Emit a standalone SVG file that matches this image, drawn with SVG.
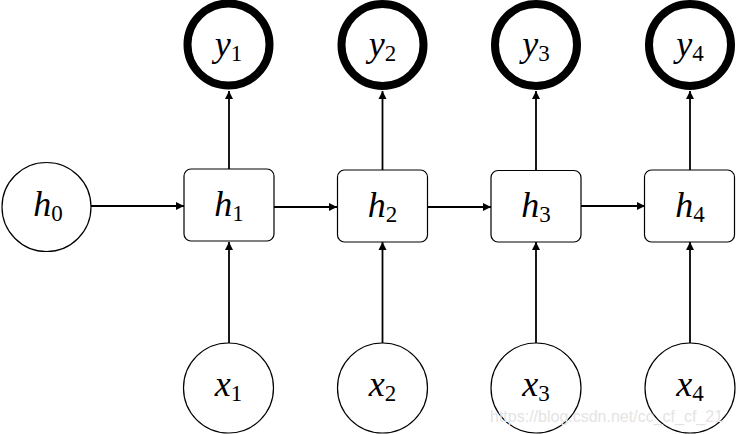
<svg xmlns="http://www.w3.org/2000/svg" width="736" height="434" viewBox="0 0 736 434">
<style>
.thin{fill:#fff;stroke:#000;stroke-width:1.2}
.ring{fill:#fff;stroke:#000;stroke-width:8}
.box{fill:#fff;stroke:#000;stroke-width:1.2}
.edge{stroke:#000;stroke-width:1.8;fill:none;marker-end:url(#ah)}
.lbl{font-family:"Times New Roman","Liberation Serif","DejaVu Serif",serif;font-size:36px;font-style:italic;fill:#000;text-anchor:middle}
.sub{font-style:normal;font-size:23px}
</style>
<defs>
<marker id="ah" markerWidth="10" markerHeight="10" refX="9" refY="5" orient="auto" markerUnits="userSpaceOnUse">
<path d="M1,1 L9,5 L1,9 Z" fill="#000"/>
</marker>
</defs>
<g id="connectors">
<line class="edge" x1="91" y1="206" x2="184" y2="206"/>
<line class="edge" x1="274" y1="207" x2="337" y2="207"/>
<line class="edge" x1="428" y1="207" x2="491" y2="207"/>
<line class="edge" x1="581" y1="206" x2="645" y2="206"/>
<line class="edge" x1="229" y1="343" x2="229" y2="242"/>
<line class="edge" x1="382.5" y1="343" x2="382.5" y2="242"/>
<line class="edge" x1="536" y1="343" x2="536" y2="242"/>
<line class="edge" x1="690" y1="343" x2="690" y2="242"/>
<line class="edge" x1="229" y1="169" x2="229" y2="91"/>
<line class="edge" x1="382.5" y1="170" x2="382.5" y2="91"/>
<line class="edge" x1="536" y1="170" x2="536" y2="91"/>
<line class="edge" x1="690" y1="170" x2="690" y2="91"/>
</g>
<g id="h0"><circle class="thin" cx="46.5" cy="207" r="44.5"/><text class="lbl" x="48" y="216">h<tspan class="sub" dy="5">0</tspan></text></g>
<g id="h1"><rect class="box" x="184" y="169" width="90" height="72" rx="7"/><text class="lbl" x="229" y="216">h<tspan class="sub" dy="5">1</tspan></text></g>
<g id="h2"><rect class="box" x="337.5" y="170" width="90" height="72" rx="7"/><text class="lbl" x="382.5" y="217">h<tspan class="sub" dy="5">2</tspan></text></g>
<g id="h3"><rect class="box" x="491" y="170.5" width="90" height="71.5" rx="7"/><text class="lbl" x="536" y="217">h<tspan class="sub" dy="5">3</tspan></text></g>
<g id="h4"><rect class="box" x="644.5" y="170" width="90" height="72" rx="7"/><text class="lbl" x="690" y="217">h<tspan class="sub" dy="5">4</tspan></text></g>
<g id="y1"><circle class="ring" cx="228.5" cy="44.5" r="41"/><text class="lbl" x="228.5" y="56">y<tspan class="sub" dy="5">1</tspan></text></g>
<g id="y2"><circle class="ring" cx="382.5" cy="45" r="41"/><text class="lbl" x="382.5" y="56">y<tspan class="sub" dy="5">2</tspan></text></g>
<g id="y3"><circle class="ring" cx="536" cy="45" r="41"/><text class="lbl" x="536" y="56">y<tspan class="sub" dy="5">3</tspan></text></g>
<g id="y4"><circle class="ring" cx="690" cy="45" r="41"/><text class="lbl" x="690" y="56">y<tspan class="sub" dy="5">4</tspan></text></g>
<g id="x1"><circle class="thin" cx="228.5" cy="388" r="45"/><text class="lbl" x="228.5" y="396">x<tspan class="sub" dy="5">1</tspan></text></g>
<g id="x2"><circle class="thin" cx="382.5" cy="388" r="45"/><text class="lbl" x="382.5" y="396">x<tspan class="sub" dy="5">2</tspan></text></g>
<g id="x3"><circle class="thin" cx="536" cy="388" r="45"/><text class="lbl" x="536" y="396">x<tspan class="sub" dy="5">3</tspan></text></g>
<g id="x4"><circle class="thin" cx="690" cy="388" r="45"/><text class="lbl" x="690" y="396">x<tspan class="sub" dy="5">4</tspan></text></g>
<text x="490" y="422" font-family="Liberation Sans, Arial, sans-serif" font-size="16" fill="#e4e4e4">https://blog.csdn.net/cc_cf_cf_21</text>
</svg>
